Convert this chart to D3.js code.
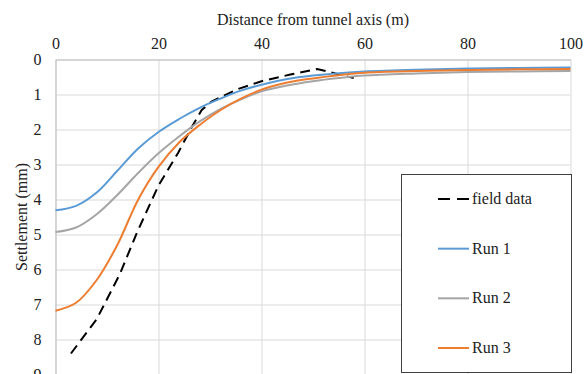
<!DOCTYPE html>
<html>
<head>
<meta charset="utf-8">
<script src="https://cdn.jsdelivr.net/npm/d3@7"></script>
<style>
  body { margin: 0; background: #fff; }
  svg { display: block; }
</style>
</head>
<body>
<svg id="chart" width="588" height="374"></svg>
<script>
// distance from tunnel axis (m) and settlement (mm)
var fieldX = [3, 8, 12.5, 15.8, 20, 23.8, 26.5, 28.4, 30.3, 35.5, 40, 45.6, 50.8, 57.9];
var fieldY = [8.4, 7.42, 6.13, 4.95, 3.6, 2.67, 1.92, 1.44, 1.2, 0.84, 0.62, 0.43, 0.27, 0.53];

var runX  = [0, 4, 8, 12, 16, 20, 24, 28, 32, 36, 40, 45, 50, 55, 60, 70, 80, 90, 100];
var run1Y = [4.31, 4.18, 3.80, 3.18, 2.55, 2.07, 1.70, 1.38, 1.12, 0.89, 0.72, 0.56, 0.46, 0.39, 0.34, 0.29, 0.26, 0.24, 0.23];
var run2Y = [4.93, 4.80, 4.42, 3.87, 3.25, 2.68, 2.20, 1.77, 1.42, 1.14, 0.91, 0.74, 0.62, 0.53, 0.46, 0.40, 0.36, 0.34, 0.33];
var run3Y = [7.18, 6.95, 6.30, 5.30, 4.02, 3.07, 2.37, 1.87, 1.45, 1.12, 0.86, 0.66, 0.54, 0.45, 0.38, 0.33, 0.30, 0.28, 0.27];

var xTicks = [0, 20, 40, 60, 80, 100];
var yTicks = [0, 1, 2, 3, 4, 5, 6, 7, 8, 9];

var font = "'Liberation Serif', 'Times New Roman', serif";

var series = [
    { name: "field data", xs: fieldX, ys: fieldY, color: "#000000", dash: "10,6", curve: d3.curveLinear },
    { name: "Run 1", xs: runX, ys: run1Y, color: "#5B9BD5", dash: null, curve: d3.curveCatmullRom.alpha(0.5) },
    { name: "Run 2", xs: runX, ys: run2Y, color: "#A5A5A5", dash: null, curve: d3.curveCatmullRom.alpha(0.5) },
    { name: "Run 3", xs: runX, ys: run3Y, color: "#ED7D31", dash: null, curve: d3.curveCatmullRom.alpha(0.5) }
];

var svg = d3.select("#chart").attr("font-family", font);

var x = d3.scaleLinear().domain([0, 100]).range([55.5, 570.5]);
var y = d3.scaleLinear().domain([0, 9]).range([59.5, 374.5]);

// grid
svg.append("g")
    .attr("transform", "translate(0," + y(0) + ")")
    .call(d3.axisTop(x).tickValues(xTicks).tickSize(-(y(9) - y(0))).tickFormat(""))
    .call(function(g) {
        g.select(".domain").remove();
        g.selectAll("line").attr("stroke", "#d9d9d9");
    });

svg.append("g")
    .attr("transform", "translate(" + x(0) + ",0)")
    .call(d3.axisLeft(y).tickValues(yTicks).tickSize(-(x(100) - x(0))).tickFormat(""))
    .call(function(g) {
        g.select(".domain").remove();
        g.selectAll("line").attr("stroke", "#d9d9d9");
    });

// axes (labels only, lines in grey)
var xAxis = svg.append("g")
    .attr("transform", "translate(0," + y(0) + ")")
    .call(d3.axisTop(x).tickValues(xTicks).tickSize(0).tickPadding(11))
    .attr("font-family", font).attr("font-size", 16);
xAxis.select(".domain").attr("stroke", "#bfbfbf");
xAxis.selectAll("text").attr("fill", "#222");

var yAxis = svg.append("g")
    .attr("transform", "translate(" + x(0) + ",0)")
    .call(d3.axisLeft(y).tickValues(yTicks).tickSize(0).tickPadding(14))
    .attr("font-family", font).attr("font-size", 16);
yAxis.select(".domain").attr("stroke", "#bfbfbf");
yAxis.selectAll("text").attr("fill", "#222");

// axis titles
svg.append("text")
    .attr("x", 313).attr("y", 25)
    .attr("text-anchor", "middle")
    .attr("font-size", 16).attr("fill", "#222")
    .text("Distance from tunnel axis (m)");

svg.append("text")
    .attr("transform", "translate(27,217) rotate(-90)")
    .attr("text-anchor", "middle")
    .attr("font-size", 16).attr("fill", "#222")
    .text("Settlement (mm)");

// lines
series.forEach(function(s) {
    var pts = s.xs.map(function(d, i) { return [d, s.ys[i]]; });
    var line = d3.line()
        .x(function(d) { return x(d[0]); })
        .y(function(d) { return y(d[1]); })
        .curve(s.curve);
    svg.append("path")
        .datum(pts)
        .attr("fill", "none")
        .attr("stroke", s.color)
        .attr("stroke-width", 2)
        .attr("stroke-dasharray", s.dash)
        .attr("d", line);
});

// legend
var legend = svg.append("g");
legend.append("rect")
    .attr("x", 401.5).attr("y", 174.5)
    .attr("width", 170).attr("height", 198)
    .attr("fill", "#fff")
    .attr("stroke", "#404040")
    .attr("stroke-width", 1);

var legendY = d3.scalePoint().domain(series.map(function(s) { return s.name; })).range([199, 348]);

var item = legend.selectAll(".item")
    .data(series)
    .enter().append("g")
    .attr("transform", function(d) { return "translate(0," + legendY(d.name) + ")"; });

item.append("line")
    .attr("x1", 438).attr("x2", 469)
    .attr("stroke", function(d) { return d.color; })
    .attr("stroke-width", 2)
    .attr("stroke-dasharray", function(d) { return d.dash ? "12,7" : null; });

item.append("text")
    .attr("x", 472).attr("dy", "0.32em")
    .attr("font-size", 16).attr("fill", "#222")
    .text(function(d) { return d.name; });
</script>
</body>
</html>
